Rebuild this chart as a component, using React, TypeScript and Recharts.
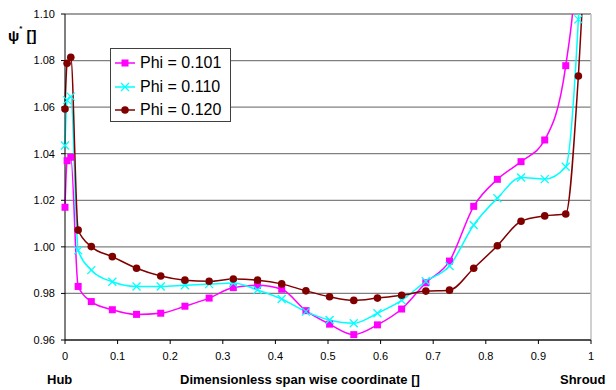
import React from 'react';
import { LineChart, Line, XAxis, YAxis, CartesianGrid, ReferenceLine } from 'recharts';

// span wise positions (shared by all three series)
const spanX = [0, 0.004, 0.011, 0.025, 0.05, 0.09, 0.136, 0.182, 0.228, 0.274, 0.32, 0.366, 0.412, 0.458, 0.503, 0.549, 0.594, 0.64, 0.686, 0.731, 0.777, 0.822, 0.867, 0.912, 0.952, 0.976, 0.99];

const phi101 = [1.017, 1.037, 1.0385, 0.983, 0.9765, 0.973, 0.971, 0.9715, 0.9745, 0.978, 0.9825, 0.9835, 0.9818, 0.9726, 0.9668, 0.9623, 0.9665, 0.9733, 0.9846, 0.9939, 1.0174, 1.029, 1.0366, 1.0459, 1.0778, 1.14, 1.25];
const phi110 = [1.0435, 1.063, 1.0645, 0.9985, 0.99, 0.985, 0.983, 0.983, 0.9835, 0.984, 0.9845, 0.9815, 0.9776, 0.9722, 0.9686, 0.9672, 0.9715, 0.977, 0.9852, 0.9918, 1.0094, 1.0209, 1.0298, 1.0291, 1.0344, 1.0977, 1.17];
const phi120 = [1.0592, 1.0788, 1.0814, 1.0072, 1.0001, 0.9958, 0.9908, 0.9875, 0.9857, 0.9852, 0.9862, 0.9857, 0.9841, 0.9811, 0.9786, 0.977, 0.978, 0.9792, 0.981, 0.9814, 0.9908, 1.0005, 1.011, 1.0133, 1.0141, 1.0734, 1.13];

const xTicks = [0, 0.1, 0.2, 0.3, 0.4, 0.5, 0.6, 0.7, 0.8, 0.9, 1];
const yTicks = [0.96, 0.98, 1.0, 1.02, 1.04, 1.06, 1.08, 1.1];

const data = spanX.map((x, i) => ({ x, a: phi101[i], b: phi110[i], c: phi120[i] }));

const FONT = '"Liberation Sans", Arial, sans-serif';
const MAGENTA = '#ff00ff';
const CYAN = '#00ffff';
const DARKRED = '#800000';

const SquareDot = (p: any) => (
    <rect key={`s${p.index}`} x={p.cx - 3.5} y={p.cy - 3.5} width={7} height={7} fill={MAGENTA} />
);
const CrossDot = (p: any) => (
    <path key={`x${p.index}`} d={`M${p.cx - 4},${p.cy - 4}L${p.cx + 4},${p.cy + 4}M${p.cx - 4},${p.cy + 4}L${p.cx + 4},${p.cy - 4}`} stroke={CYAN} strokeWidth={1.3} fill="none" />
);
const CircleDot = (p: any) => (
    <circle key={`c${p.index}`} cx={p.cx} cy={p.cy} r={3.8} fill={DARKRED} />
);

const legendItems = [
    { name: 'Phi = 0.101', color: MAGENTA, kind: 'square' },
    { name: 'Phi = 0.110', color: CYAN, kind: 'cross' },
    { name: 'Phi = 0.120', color: DARKRED, kind: 'circle' },
];

export default function App() {
    return (
        <div style={{ position: 'absolute', left: 0, top: 0, width: 616, height: 390, background: '#fff', fontFamily: FONT }}>
            <LineChart width={616} height={390} data={data} margin={{ top: 14, right: 25, left: 0, bottom: 20 }}>
                <CartesianGrid vertical={false} stroke="#808080" strokeWidth={1.3} />
                <ReferenceLine x={1} stroke="#c0c0c0" strokeWidth={1.5} />
                <XAxis
                    dataKey="x"
                    type="number"
                    domain={[0, 1]}
                    ticks={xTicks}
                    tickFormatter={(v: number) => (v === 0 ? '0' : v === 1 ? '1' : v.toFixed(1))}
                    height={30}
                    stroke="#000"
                    tickSize={4}
                    tickMargin={8}
                    tick={{ fill: '#000', fontSize: 11, fontFamily: FONT }}
                />
                <YAxis
                    type="number"
                    domain={[0.96, 1.1]}
                    ticks={yTicks}
                    allowDataOverflow
                    tickFormatter={(v: number) => v.toFixed(2)}
                    width={65}
                    stroke="#000"
                    tickSize={4}
                    tickMargin={6}
                    tick={{ fill: '#000', fontSize: 11, fontFamily: FONT }}
                />
                <Line type="monotone" dataKey="a" stroke={MAGENTA} strokeWidth={1.5} dot={SquareDot} isAnimationActive={false} />
                <Line type="monotone" dataKey="b" stroke={CYAN} strokeWidth={1.5} dot={CrossDot} isAnimationActive={false} />
                <Line type="monotone" dataKey="c" stroke={DARKRED} strokeWidth={1.5} dot={CircleDot} isAnimationActive={false} />
            </LineChart>

            {/* y axis title */}
            <div style={{ position: 'absolute', left: 8, top: 27, fontSize: 15, fontWeight: 'bold' }}>
                ψ<sup style={{ fontSize: 8, verticalAlign: 'top', position: 'relative', top: -3 }}>*</sup> []
            </div>

            {/* x axis titles */}
            <div style={{ position: 'absolute', left: 47, top: 372, fontSize: 13, fontWeight: 'bold' }}>Hub</div>
            <div style={{ position: 'absolute', left: 180, top: 372, fontSize: 13, fontWeight: 'bold' }}>Dimensionless span wise coordinate []</div>
            <div style={{ position: 'absolute', left: 560, top: 372, fontSize: 13, fontWeight: 'bold' }}>Shroud</div>

            {/* legend */}
            <div style={{ position: 'absolute', left: 110, top: 48, width: 119, height: 72, border: '1px solid #404040', background: '#fff' }}>
                {legendItems.map((it, i) => (
                    <div key={it.name} style={{ position: 'absolute', left: 3, top: 4 + i * 23.5, height: 20, display: 'flex', alignItems: 'center' }}>
                        <svg width={22} height={20}>
                            <line x1={1} y1={10} x2={21} y2={10} stroke={it.color} strokeWidth={1.5} />
                            {it.kind === 'square' && <rect x={7.5} y={6.5} width={7} height={7} fill={it.color} />}
                            {it.kind === 'cross' && <path d="M7,6L15,14M7,14L15,6" stroke={it.color} strokeWidth={1.3} />}
                            {it.kind === 'circle' && <circle cx={11} cy={10} r={3.8} fill={it.color} />}
                        </svg>
                        <span style={{ fontSize: 16, marginLeft: 4, color: '#000' }}>{it.name}</span>
                    </div>
                ))}
            </div>
        </div>
    );
}
